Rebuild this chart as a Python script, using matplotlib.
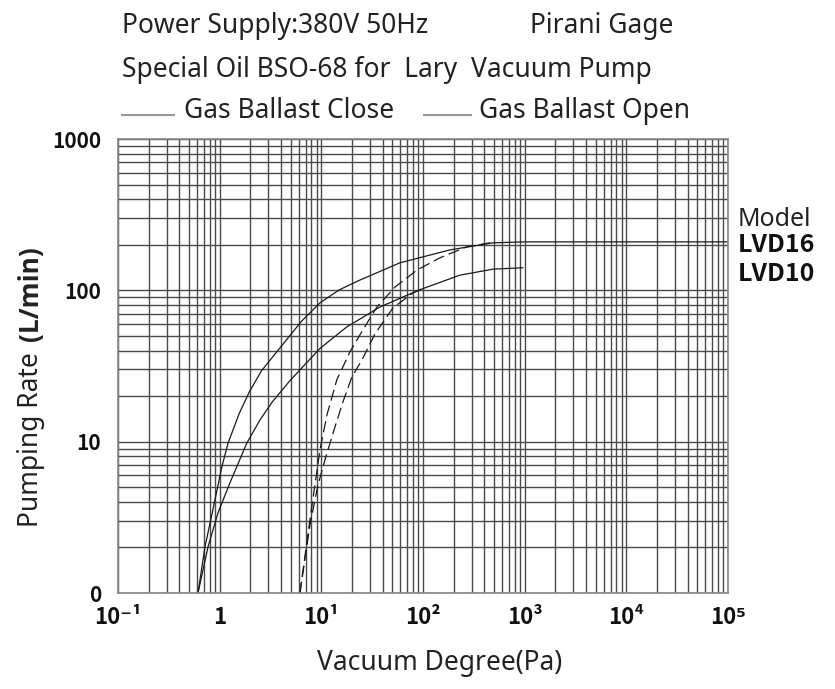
import matplotlib
matplotlib.use("Agg")
import matplotlib.pyplot as plt
from matplotlib.lines import Line2D

plt.rcParams['font.family'] = ['Noto Sans', 'Noto Sans CJK SC', 'DejaVu Sans']
BOLD = ['Noto Sans CJK SC', 'DejaVu Sans']

# Pumping curves (Pa, L/min)
lvd16_close_x = [0.612, 0.716, 0.899, 1.05, 1.21, 1.56, 1.95, 2.56, 3.44, 4.59, 6.4, 9.69, 15.1, 24.0, 59.3, 184, 487, 1000, 100000]
lvd16_close_y = [1.0, 2.01, 4.12, 6.80, 9.80, 15.4, 21.2, 29.2, 37.4, 47.5, 62.6, 82.6, 101, 117, 152, 185, 206, 209, 209]

lvd10_close_x = [0.612, 0.767, 0.962, 1.26, 1.85, 2.49, 3.27, 4.91, 9.69, 17.8, 37.7, 93.2, 231, 487, 960]
lvd10_close_y = [1.0, 2.01, 3.38, 5.33, 9.80, 13.9, 18.2, 25.3, 41.3, 57.3, 77.6, 101, 126, 138, 141]

lvd16_open_x = [6.16, 7.72, 9.69, 11.35, 14.2, 19.1, 25.6, 35.2, 52.9, 87.1, 146.6, 270, 455]
lvd16_open_y = [1.0, 3.04, 8.81, 15.0, 25.6, 39.2, 54.7, 77.6, 105, 136, 164, 194, 206]

lvd10_open_x = [6.16, 7.72, 9.27, 10.85, 13.3, 16.3, 20.0, 25.1, 33.7, 50.6, 79.6, 97.5]
lvd10_open_y = [1.0, 2.81, 5.17, 7.57, 11.9, 18.3, 26.8, 34.7, 51.5, 76.5, 96.1, 102]

x_ticks = [0.1, 1, 10, 100, 1000, 10000, 100000]
x_tick_labels = ['10⁻¹', '1', '10¹', '10²', '10³', '10⁴', '10⁵']
y_ticks = [1, 10, 100, 1000]
y_tick_labels = ['0', '10', '100', '1000']

W, H = 835, 689
fig = plt.figure(figsize=(W / 100, H / 100), dpi=100)
ax = fig.add_axes([118 / W, 1 - 593 / H, 610 / W, 454 / H])

ax.set_xscale('log')
ax.set_yscale('log')
ax.set_xlim(0.1, 1e5)
ax.set_ylim(1, 1000)

ax.grid(True, which='both', color='#4a4a4a', lw=1.0)
ax.set_axisbelow(True)

curve_kw = dict(color='#1a1a1a', lw=0.9)
ax.plot(lvd16_close_x, lvd16_close_y, **curve_kw)
ax.plot(lvd10_close_x, lvd10_close_y, **curve_kw)
ax.plot(lvd16_open_x, lvd16_open_y, dashes=(9, 4), **curve_kw)
ax.plot(lvd10_open_x, lvd10_open_y, dashes=(9, 4), **curve_kw)

ax.set_xticks(x_ticks)
ax.set_xticklabels(x_tick_labels, fontweight='bold', family=BOLD, color='#111111')
ax.set_yticks(y_ticks)
ax.set_yticklabels(y_tick_labels, fontweight='bold', family=BOLD, color='#111111')
ax.tick_params(which='both', length=0)
ax.tick_params(axis='x', labelsize=16, pad=9)
ax.tick_params(axis='y', labelsize=15, pad=12)

for s in ax.spines.values():
    s.set_color('#888888')
    s.set_linewidth(1.2)

# axis titles
fig.text(440 / W, 1 - 663 / H, 'Vacuum Degree(Pa)', fontsize=19, color='#222222',
         ha='center', va='center')
fig.text(38 / W, 1 - 527 / H, 'Pumping Rate', fontsize=19, color='#222222',
         rotation=90, rotation_mode='anchor', ha='left', va='baseline')
fig.text(38 / W, 1 - 341 / H, '(L/min)', fontsize=19, fontweight='bold', color='#222222',
         rotation=90, rotation_mode='anchor', ha='left', va='baseline',
         family=['Open Sans', 'DejaVu Sans'])

# header lines
fig.text(122 / W, 1 - 33 / H, 'Power Supply:380V 50Hz', fontsize=19, color='#222222', va='baseline')
fig.text(530 / W, 1 - 33 / H, 'Pirani Gage', fontsize=19, color='#222222', va='baseline')
fig.text(122 / W, 1 - 77 / H, 'Special Oil BSO-68 for  Lary  Vacuum Pump', fontsize=19,
         color='#222222', va='baseline')

# legend row
fig.add_artist(Line2D([122 / W, 174 / W], [1 - 115 / H, 1 - 115 / H], color='#999999', lw=1.5))
fig.text(184 / W, 1 - 118 / H, 'Gas Ballast Close', fontsize=19, color='#222222', va='baseline')
fig.add_artist(Line2D([424 / W, 471 / W], [1 - 115 / H, 1 - 115 / H], color='#999999', lw=1.5))
fig.text(479 / W, 1 - 118 / H, 'Gas Ballast Open', fontsize=19, color='#222222', va='baseline')

# model labels
fig.text(738 / W, 1 - 226 / H, 'Model', fontsize=18, color='#222222', va='baseline')
fig.text(738 / W, 1 - 252 / H, 'LVD16', fontsize=18, fontweight='bold', color='#111111',
         va='baseline', family=BOLD)
fig.text(738 / W, 1 - 281 / H, 'LVD10', fontsize=18, fontweight='bold', color='#111111',
         va='baseline', family=BOLD)

fig.savefig('out.png', dpi=100)
